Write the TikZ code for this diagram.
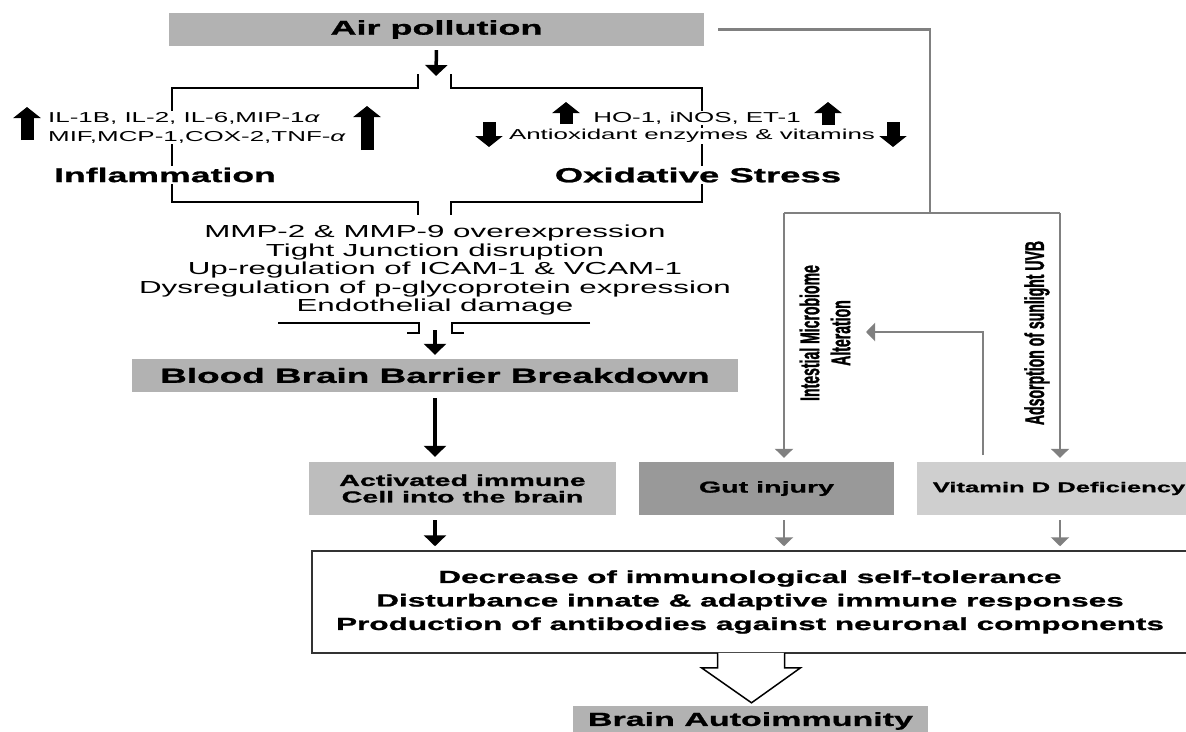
\documentclass[tikz,border=0pt]{standalone}
\usepackage{fontspec}
\setmainfont{Liberation Sans}[FakeStretch=1.8,BoldFeatures={FakeBold=1.2}]
\newfontfamily\narrowfont{Liberation Sans}[FakeStretch=0.52,BoldFeatures={FakeBold=1}]
\usetikzlibrary{arrows.meta}

\definecolor{boxgray}{gray}{0.70}
\definecolor{actgray}{gray}{0.74}
\definecolor{gutgray}{gray}{0.60}
\definecolor{vitgray}{gray}{0.81}
\definecolor{lngray}{gray}{0.50}

\tikzset{
  hbox/.style={rectangle,fill=boxgray,inner sep=0pt,font=\bfseries\fontsize{20}{22}\selectfont},
  mbox/.style={rectangle,inner sep=0pt,minimum height=53pt,align=center,font=\bfseries\fontsize{15.9}{16.5}\selectfont},
  small/.style={fill=white,inner sep=1pt,font=\fontsize{14.4}{19}\selectfont},
  frm/.style={line width=1.5pt,black},
  barr/.style={line width=3.5pt,-{Triangle[length=11pt,width=22pt]}},
  garr/.style={line width=2.5pt,lngray,-{Triangle[length=9pt,width=18pt]}},
  gline/.style={line width=2.5pt,lngray},
  bigarr/.style={line width=13pt,-{Triangle[length=11pt,width=27pt]}},
  vlabel/.style={rotate=90,align=center,font=\narrowfont\bfseries\fontsize{27}{31}\selectfont}
}

\begin{document}
\begin{tikzpicture}[x=1pt,y=-1pt]
\useasboundingbox (0,0) rectangle (1186,731);
\clip (0,0) rectangle (1186,731);

\node[hbox,minimum width=535pt,minimum height=33pt] (air) at (436.5,29.5){Air pollution};

% frame round inflammation / oxidative stress
\draw[frm] (418,74) -- (418,88) -- (172,88) -- (172,202) -- (418,202) -- (418,215);
\draw[frm] (451,74) -- (451,88) -- (702,88) -- (702,202) -- (451,202) -- (451,215);
\coordinate (ftop) at (436,76);
\draw[barr,shorten <=4pt] (air.south) -- (ftop);

\node[small,anchor=west,align=left] (il) at (47,127.5){IL-1B, IL-2, IL-6,MIP-1\textit{α}\\MIF,MCP-1,COX-2,TNF-\textit{α}};
\draw[bigarr] (27,140) -- (27,107);
\draw[bigarr] (367,150) -- (367,106);
\node[fill=white,inner sep=2pt,font=\bfseries\fontsize{19.8}{21}\selectfont] (infl) at (165,175){Inflammation};

\node[small] (ho) at (697,118){HO-1, iNOS, ET-1};
\node[small] (anti) at (692,136){Antioxidant enzymes \& vitamins};
\draw[bigarr] (566,124) -- (566,102);
\draw[bigarr] (828,125) -- (828,102);
\draw[bigarr] (489,122) -- (489,147);
\draw[bigarr] (893,122) -- (893,147);
\node[fill=white,inner sep=2pt,font=\bfseries\fontsize{20.3}{22}\selectfont] (oxs) at (698,175){Oxidative Stress};

\node[align=center,inner sep=0pt,font=\fontsize{17.4}{18.5}\selectfont] (mmp) at (435,270){MMP-2 \& MMP-9 overexpression\\Tight Junction disruption\\Up-regulation of ICAM-1 \& VCAM-1\\Dysregulation of p-glycoprotein expression\\Endothelial damage};
\draw[frm] (278,323) -- (419,323) -- (419,333) -- (407,333);
\draw[frm] (590,323) -- (452,323) -- (452,333) -- (464,333);

\node[hbox,minimum width=606pt,minimum height=33pt,font=\bfseries\fontsize{20.5}{22}\selectfont] (bbb) at (435,375.5){Blood Brain Barrier Breakdown};
\coordinate (fbot) at (435,330);
\draw[barr,shorten >=4pt] (fbot) -- (bbb.north);

\node[mbox,fill=actgray,minimum width=307pt] (act) at (462.5,488.5){Activated immune\\Cell into the brain};
\node[mbox,fill=gutgray,minimum width=255pt] (gut) at (766.5,488.5){Gut injury};
\node[mbox,fill=vitgray,minimum width=284pt,font=\bfseries\fontsize{14.2}{16}\selectfont] (vit) at (1059,488.5){Vitamin D Deficiency};

\draw[barr,shorten <=6pt,shorten >=5pt] (bbb.south) -- (bbb.south |- act.north);

% right hand branch
\coordinate (j1) at (930,213);
\coordinate (gl) at (784,213);
\coordinate (gr) at (1060,213);
\draw[gline] ([xshift=14pt]air.east) -| (j1);
\draw[gline] (gl) -- (gr);
\draw[garr,shorten >=4pt] (gl) -- (gl |- gut.north);
\draw[garr,shorten >=4pt] (gr) -- (gr |- vit.north);

\node[vlabel] (intest) at (825,333){Intestial Microbiome\\Alteration};
\node[vlabel] (adsorp) at (1037,333){Adsorption of sunlight UVB};
\coordinate (vup) at (983,455);
\coordinate (alt) at (866,332);
\draw[garr] (vup) |- (alt);

\node[rectangle,draw=black!80,line width=1.5pt,fill=white,minimum width=876pt,minimum height=102pt,inner sep=0pt,align=center,font=\bfseries\fontsize{17.5}{23.5}\selectfont] (eff) at (750,602){Decrease of immunological self-tolerance\\Disturbance innate \& adaptive immune responses\\Production of antibodies against neuronal components};

\draw[barr,shorten <=5pt,shorten >=4pt] (act.south -| bbb.south) -- (eff.north -| bbb.south);
\draw[garr,shorten <=5pt,shorten >=4pt] (gut.south -| gl) -- (eff.north -| gl);
\draw[garr,shorten <=5pt,shorten >=4pt] (vit.south -| gr) -- (eff.north -| gr);

\node[hbox,minimum width=355pt,minimum height=30pt,font=\bfseries\fontsize{18.9}{20}\selectfont] (brain) at (750.5,721){Brain Autoimmunity};
\draw[line width=1.5pt,fill=white,shift={(brain.north)}] (-33,-53) -- (-33,-38) -- (-49,-38) -- (1,-3) -- (50,-38) -- (34,-38) -- (34,-53);

\end{tikzpicture}
\end{document}
